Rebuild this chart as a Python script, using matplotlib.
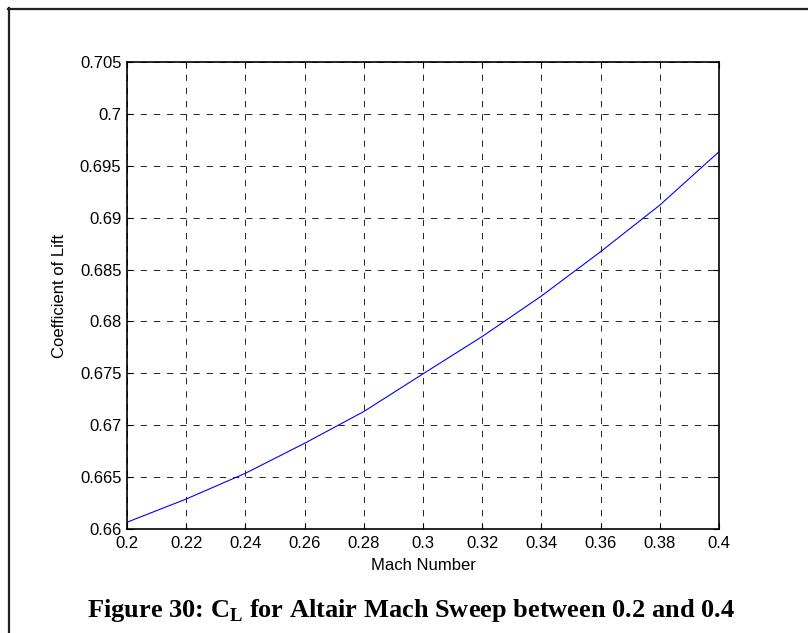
import matplotlib
matplotlib.use("Agg")
import matplotlib.pyplot as plt
from matplotlib.lines import Line2D
from matplotlib.ticker import FixedLocator

# Data
mach = [0.20, 0.22, 0.24, 0.26, 0.28, 0.30, 0.32, 0.34, 0.36, 0.38, 0.40]
cl = [0.66065, 0.66289, 0.66537, 0.66826, 0.67132, 0.67495, 0.67855,
      0.68245, 0.68672, 0.69121, 0.69635]
xticks = [0.2, 0.22, 0.24, 0.26, 0.28, 0.3, 0.32, 0.34, 0.36, 0.38, 0.4]
xtick_labels = ["0.2", "0.22", "0.24", "0.26", "0.28", "0.3", "0.32", "0.34", "0.36", "0.38", "0.4"]
yticks = [0.66, 0.665, 0.67, 0.675, 0.68, 0.685, 0.69, 0.695, 0.7, 0.705]
ytick_labels = ["0.66", "0.665", "0.67", "0.675", "0.68", "0.685", "0.69", "0.695", "0.7", "0.705"]
xlabel = "Mach Number"
ylabel = "Coefficient of Lift"
caption = r"Figure 30: $\mathbf{C}_{\mathbf{L}}$ for Altair Mach Sweep between 0.2 and 0.4"

plt.rcParams["font.family"] = ["Liberation Sans", "DejaVu Sans"]
plt.rcParams["mathtext.fontset"] = "custom"
plt.rcParams["mathtext.bf"] = "Liberation Serif:bold"
plt.rcParams["mathtext.rm"] = "Liberation Serif:bold"
plt.rcParams["lines.scale_dashes"] = False

W, H = 808, 633
fig = plt.figure(figsize=(W / 100, H / 100), dpi=100)
fig.patch.set_facecolor("white")

L, R, T, B = 127, 719, 62, 529
ax = fig.add_axes([L / W, 1 - B / H, (R - L) / W, (B - T) / H])

ax.plot(mach, cl, color=(0, 0, 1), linewidth=0.8)
ax.set_xlim(0.2, 0.4)
ax.set_ylim(0.66, 0.705)
ax.xaxis.set_major_locator(FixedLocator(xticks))
ax.yaxis.set_major_locator(FixedLocator(yticks))
ax.set_xticklabels(xtick_labels)
ax.set_yticklabels(ytick_labels)

ax.grid(True, color="black", linewidth=0.6, linestyle=(0, (4.5, 5.0)))
ax.tick_params(direction="in", length=4, width=0.8, top=True, right=True,
               labelsize=12, pad=4, colors="black")
ax.tick_params(axis="x", pad=5)
for s in ax.spines.values():
    s.set_linewidth(1.2)
    s.set_color("black")

ax.set_xlabel(xlabel, fontsize=12, va="center")
ax.set_ylabel(ylabel, fontsize=12, va="center")
ax.xaxis.set_label_coords(((423 - L) / (R - L)), (B - 566) / (B - T))
ax.yaxis.set_label_coords((60 - L) / (R - L), 0.5)

fig.text(410.5 / W, 1 - 616.5 / H, caption, ha="center", va="baseline",
         fontsize=19, fontweight="bold", family="Liberation Serif")

# outer frame (top and left edges)
fig.add_artist(Line2D([8 / W, 1.0], [1 - 8.5 / H, 1 - 8.5 / H],
                      transform=fig.transFigure, color="#222222", linewidth=1.6))
fig.add_artist(Line2D([8.5 / W, 8.5 / W], [0.0, 1 - 8 / H],
                      transform=fig.transFigure, color="#222222", linewidth=1.6))

fig.savefig("out.png", dpi=100, facecolor="white")
